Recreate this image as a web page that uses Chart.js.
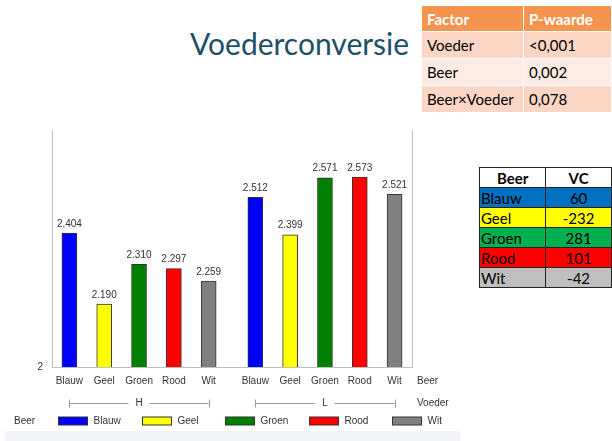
<!DOCTYPE html>
<html>
<head>
<meta charset="utf-8">
<script src="https://cdn.jsdelivr.net/npm/chart.js@4.4.1/dist/chart.umd.min.js"></script>
<style>
  body { margin: 0; width: 612px; height: 441px; background: #fff; position: relative; overflow: hidden; font-family: Lato, "Open Sans", sans-serif; }
  #title { position: absolute; left: 190px; top: 25px; font-size: 30px; color: #1d4f66; white-space: nowrap; }
  table { border-collapse: collapse; position: absolute; }
  #ptable { left: 421px; top: 5px; width: 191px; font-size: 15px; }
  #ptable td, #ptable th { text-align: left; padding: 0 0 0 5px; border: 1px solid #fff; }
  #ptable th { background: #f4944f; color: #fff; height: 25px; font-weight: bold; }
  #ptable td { height: 26px; }
  #ptable tr.odd td { background: #fcd6c5; }
  #ptable tr.even td { background: #fdebe4; }
  #vctable { left: 479px; top: 167px; font-size: 15px; }
  #vctable td, #vctable th { border: 1px solid #222; height: 19px; padding: 0 1px; line-height: 18px; }
  #vctable th { background: #fff; text-align: center; font-weight: bold; }
  #band { position: absolute; left: 5px; top: 431px; width: 456px; height: 10px; background: #f3f5f9; }
  #chartBox { position: absolute; left: 0; top: 115px; width: 465px; height: 316px; }
</style>
</head>
<body>
<div id="title">Voederconversie</div>
<table id="ptable"></table>
<table id="vctable"></table>
<div id="band"></div>
<div id="chartBox"><canvas id="vcChart"></canvas></div>
<script>
// data
const beers = ['Blauw', 'Geel', 'Groen', 'Rood', 'Wit'];
const voeders = ['H', 'L'];
const vcH = [2.404, 2.190, 2.310, 2.297, 2.259];
const vcL = [2.512, 2.399, 2.571, 2.573, 2.521];
const beerColors = ['#0000ff', '#ffff00', '#008000', '#ff0000', '#808080'];
const yTicks = [2];

const factors = ['Voeder', 'Beer', 'Beer×Voeder'];
const pValues = ['<0,001', '0,002', '0,078'];

const vcBeer = [60, -232, 281, 101, -42];
const vcColors = ['#0070c0', '#ffff00', '#00b050', '#ff0000', '#bfbfbf'];

const GROUP_GAP = 0.34;

// tables
function buildTables() {
    const pt = document.getElementById('ptable');
    let html = '<tr><th style="width:96px">Factor</th><th>P-waarde</th></tr>';
    factors.forEach((f, i) => {
        html += `<tr class="${i % 2 ? 'even' : 'odd'}"><td>${f}</td><td>${pValues[i].replace('<', '&lt;')}</td></tr>`;
    });
    pt.innerHTML = html;

    const vt = document.getElementById('vctable');
    let h2 = '<tr><th style="width:64px">Beer</th><th style="width:64px">VC</th></tr>';
    beers.forEach((b, i) => {
        h2 += `<tr style="background:${vcColors[i]}"><td>${b}</td><td style="text-align:center">${vcBeer[i]}</td></tr>`;
    });
    vt.innerHTML = h2;
}
buildTables();

// chart data
const points = [];
const colors = [];
[vcH, vcL].forEach((series, g) => {
    series.forEach((v, i) => {
        points.push({ x: g * (beers.length + GROUP_GAP) + i, y: v });
        colors.push(beerColors[i]);
    });
});
const xPositions = points.map(p => p.x);

Chart.defaults.font.family = '"Liberation Sans", Arial, sans-serif';
Chart.defaults.font.size = 10;
Chart.defaults.color = '#333';

const AXIS_COLOR = '#c0c0c0';

const extrasPlugin = {
    id: 'extras',
    afterDatasetsDraw(chart) {
        const ctx = chart.ctx;
        const area = chart.chartArea;
        const xs = chart.scales.x;
        const meta = chart.getDatasetMeta(0);

        ctx.save();
        // right border line
        ctx.strokeStyle = AXIS_COLOR;
        ctx.lineWidth = 1;
        ctx.beginPath();
        ctx.moveTo(Math.round(area.right) + 0.5, area.top);
        ctx.lineTo(Math.round(area.right) + 0.5, area.bottom);
        ctx.stroke();

        // value labels
        ctx.fillStyle = '#333';
        ctx.font = '10px "Liberation Sans", Arial, sans-serif';
        ctx.textAlign = 'center';
        ctx.textBaseline = 'bottom';
        meta.data.forEach((bar, i) => {
            ctx.fillText(points[i].y.toFixed(3), bar.x, bar.y - 4);
        });

        // axis titles on the right
        const labelY = area.bottom + 14;
        const groupY = area.bottom + 36;
        ctx.textAlign = 'left';
        ctx.textBaseline = 'middle';
        ctx.fillText('Beer', area.right + 5, labelY);
        ctx.fillText('Voeder', area.right + 5, groupY);

        // group brackets
        ctx.strokeStyle = '#999';
        voeders.forEach((v, g) => {
            const first = xs.getPixelForValue(xPositions[g * beers.length]);
            const last = xs.getPixelForValue(xPositions[g * beers.length + beers.length - 1]);
            const mid = (first + last) / 2;
            const tw = ctx.measureText(v).width;
            const y = Math.round(groupY) + 0.5;
            ctx.beginPath();
            ctx.moveTo(first, y); ctx.lineTo(mid - tw / 2 - 7, y);
            ctx.moveTo(mid + tw / 2 + 7, y); ctx.lineTo(last, y);
            ctx.moveTo(Math.round(first) + 0.5, y - 4); ctx.lineTo(Math.round(first) + 0.5, y + 4);
            ctx.moveTo(Math.round(last) + 0.5, y - 4); ctx.lineTo(Math.round(last) + 0.5, y + 4);
            ctx.stroke();
            ctx.textAlign = 'center';
            ctx.fillText(v, mid, groupY);
        });

        // legend
        const legY = area.bottom + 54;
        ctx.textAlign = 'left';
        ctx.fillText('Beer', 14, legY);
        beers.forEach((b, i) => {
            const sx = Math.round(58 + i * 83.5) + 0.5;
            ctx.fillStyle = beerColors[i];
            ctx.fillRect(sx, legY - 4, 29, 8);
            ctx.strokeStyle = '#333';
            ctx.strokeRect(sx, legY - 4, 29, 8);
            ctx.fillStyle = '#333';
            ctx.fillText(b, sx + 35, legY);
        });
        ctx.restore();
    }
};

new Chart(document.getElementById('vcChart'), {
    type: 'bar',
    data: {
        datasets: [{
            data: points,
            backgroundColor: colors,
            borderColor: '#333',
            borderWidth: 1,
            barThickness: 15
        }]
    },
    options: {
        responsive: true,
        maintainAspectRatio: false,
        animation: false,
        layout: { padding: { top: 10, right: 53, left: 0, bottom: 0 } },
        plugins: {
            legend: { display: false },
            tooltip: { enabled: false }
        },
        scales: {
            x: {
                type: 'linear',
                offset: false,
                min: -0.5,
                max: beers.length * 2 - 1 + GROUP_GAP + 0.5,
                afterBuildTicks: s => { s.ticks = xPositions.map(v => ({ value: v })); },
                afterFit: s => { s.height = 64; },
                ticks: {
                    autoSkip: false,
                    maxRotation: 0,
                    padding: 8,
                    callback: (val, idx) => beers[idx % beers.length]
                },
                grid: { display: false, drawTicks: false },
                border: { display: true, color: AXIS_COLOR }
            },
            y: {
                min: 2,
                max: 2.715,
                afterBuildTicks: s => { s.ticks = yTicks.map(v => ({ value: v })); },
                afterFit: s => { s.width = 52; },
                ticks: { padding: 9, callback: v => String(v) },
                grid: { display: false, drawTicks: false },
                border: { display: true, color: AXIS_COLOR }
            }
        }
    },
    plugins: [extrasPlugin]
});
</script>
</body>
</html>
